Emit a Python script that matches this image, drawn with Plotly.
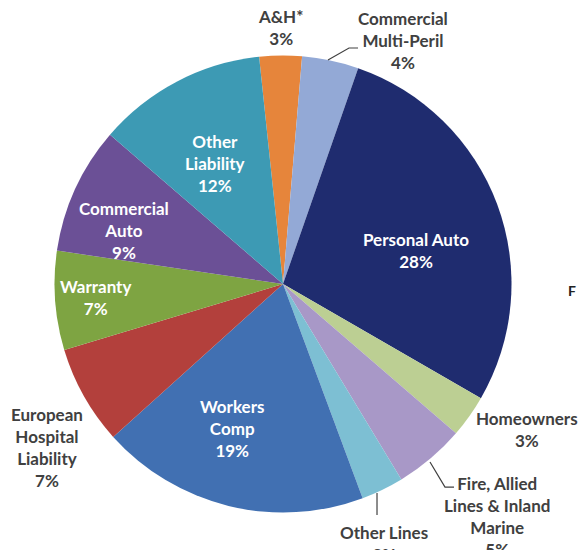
import plotly.graph_objects as go

# ---- data (clockwise, starting at A&H*) ----
labels = ["A&H*", "Commercial Multi-Peril", "Personal Auto", "Homeowners",
          "Fire, Allied Lines & Inland Marine", "Other Lines", "Workers Comp",
          "European Hospital Liability", "Warranty", "Commercial Auto",
          "Other Liability"]
values = [3, 4, 28, 3, 5, 3, 19, 7, 7, 9, 12]
label_text = ["A&H*", "Commercial<br>Multi-Peril", "Personal Auto", "Homeowners",
              "Fire, Allied<br>Lines & Inland<br>Marine", "Other Lines", "Workers<br>Comp",
              "European<br>Hospital<br>Liability", "Warranty", "Commercial<br>Auto",
              "Other<br>Liability"]

# ---- styles / positions ----
colors = ["#E6853B", "#93A9D6", "#1F2C6F", "#BCCF93", "#A898C7", "#7DBFD3",
          "#4170B2", "#B3403C", "#7EA442", "#6B5096", "#3D9AB4"]
inside = [False, False, True, False, False, False, True, False, True, True, True]
# label block centres in pixels (x, y from top)
label_px = [(280, 28), (403, 40), (416, 251), (527, 429), (497, 516), (384, 543),
            (232, 428), (47, 447), (95, 297), (124, 231), (215, 164)]

W, H = 581, 550
CX, CY, R = 283, 284, 228.5


def px(x):
    return x / W


def py(y):
    return 1 - y / H


fig = go.Figure(go.Pie(
    labels=labels, values=values, sort=False, direction="clockwise",
    rotation=-6, textinfo="none", hoverinfo="label+percent",
    marker=dict(colors=colors, line=dict(width=0)),
    domain=dict(x=[px(CX - R), px(CX + R)], y=[py(CY + R), py(CY - R)]),
    showlegend=False,
))

total = sum(values)
for lab, v, ins, (x, y) in zip(label_text, values, inside, label_px):
    pct = round(100 * v / total)
    fig.add_annotation(
        x=px(x), y=py(y), xref="paper", yref="paper",
        text=f"{lab}<br>{pct}%", showarrow=False,
        xanchor="center", yanchor="middle", align="center",
        font=dict(family="Lato", size=17, color="#FFFFFF" if ins else "#404040",
                  weight="bold"),
    )

# leader lines
leaders = [
    [(328, 60), (349, 48), (358, 48)],
    [(430, 462), (445, 487), (454, 487)],
    [(377, 493), (377, 515)],
]
for pts in leaders:
    path = "M " + " L ".join(f"{px(a):.4f} {py(b):.4f}" for a, b in pts)
    fig.add_shape(type="path", path=path, xref="paper", yref="paper",
                  line=dict(color="#404040", width=1.2))

# clipped text at right edge
fig.add_annotation(x=px(566), y=py(290), xref="paper", yref="paper", text="F",
                   showarrow=False, xanchor="left", yanchor="middle",
                   font=dict(family="Lato", size=14, color="#222222", weight="bold"))

fig.update_layout(
    width=W, height=H, margin=dict(l=0, r=0, t=0, b=0),
    paper_bgcolor="white", plot_bgcolor="white",
)
fig.write_html("out.html")
